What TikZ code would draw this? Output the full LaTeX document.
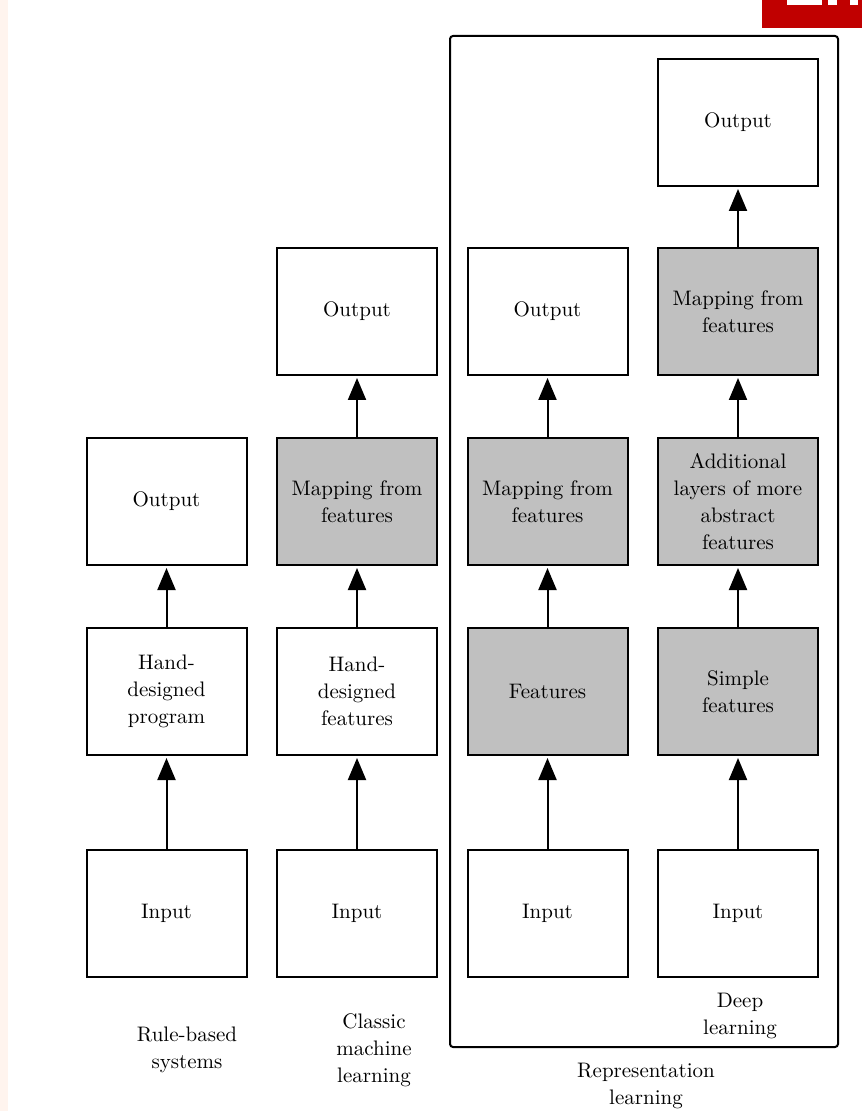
\documentclass[tikz,border=0pt]{standalone}
\usetikzlibrary{arrows.meta}
\definecolor{boxgray}{RGB}{192,192,192}
\definecolor{stripc}{RGB}{255,244,238}
\definecolor{redc}{RGB}{192,0,0}
\begin{document}
\begin{tikzpicture}[x=0.5pt,y=-0.5pt,
  blk/.style={draw,line width=1pt,minimum width=80pt,minimum height=63.5pt,align=center,inner sep=1pt,font=\fontsize{10.5}{13.5}\selectfont},
  gblk/.style={blk,fill=boxgray},
  lbl/.style={align=center,font=\fontsize{10.5}{13.5}\selectfont},
  arr/.style={line width=1pt,-{Triangle[length=11pt,width=9pt]},shorten >=1pt}]
\useasboundingbox (0,0) rectangle (862,1111);
\fill[stripc] (0,0) rectangle (8,1111);
\fill[redc] (762,0) rectangle (862,28);
\fill[white] (787,0) rectangle (822,5);
\fill[white] (828,0) rectangle (837,5);
\fill[white] (850,0) rectangle (858,5);
\draw[line width=1pt,rounded corners=1.5pt] (450,36) rectangle (838,1047);
% column 1
\node[blk] (i1) at (166.5,913.5) {Input};
\node[blk] (h1) at (166.5,691.5) {Hand-\\designed\\program};
\node[blk] (o1) at (166.5,501.5) {Output};
% column 2
\node[blk] (i2) at (357,913.5) {Input};
\node[blk] (h2) at (357,691.5) {Hand-\\designed\\features};
\node[gblk] (m2) at (357,501.5) {Mapping from\\features};
\node[blk] (o2) at (357,311.5) {Output};
% column 3
\node[blk] (i3) at (547.5,913.5) {Input};
\node[gblk] (f3) at (547.5,691.5) {Features};
\node[gblk] (m3) at (547.5,501.5) {Mapping from\\features};
\node[blk] (o3) at (547.5,311.5) {Output};
% column 4
\node[blk] (i4) at (738,913.5) {Input};
\node[gblk] (s4) at (738,691.5) {Simple\\features};
\node[gblk] (a4) at (738,501.5) {Additional\\layers of more\\abstract\\features};
\node[gblk] (m4) at (738,311.5) {Mapping from\\features};
\node[blk] (o4) at (738,122.5) {Output};
% arrows
\draw[arr] (i1) -- (h1);
\draw[arr] (h1) -- (o1);
\draw[arr] (i2) -- (h2);
\draw[arr] (h2) -- (m2);
\draw[arr] (m2) -- (o2);
\draw[arr] (i3) -- (f3);
\draw[arr] (f3) -- (m3);
\draw[arr] (m3) -- (o3);
\draw[arr] (i4) -- (s4);
\draw[arr] (s4) -- (a4);
\draw[arr] (a4) -- (m4);
\draw[arr] (m4) -- (o4);
% labels
\node[lbl] (l1) at (187,1050) {Rule-based\\systems};
\node[lbl] (l2) at (374,1050) {Classic\\machine\\learning};
\node[lbl] (l4) at (740,1016) {Deep\\learning};
\node[lbl] (l3) at (646,1086) {Representation\\learning};
\end{tikzpicture}
\end{document}
